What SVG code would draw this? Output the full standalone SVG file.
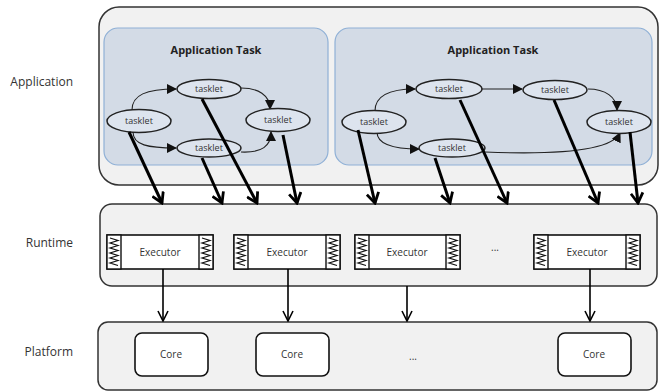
<svg xmlns="http://www.w3.org/2000/svg" width="661" height="392" viewBox="0 0 661 392">
  <defs>
    <style>
      .layer { fill: #f1f1f1; stroke: #333; stroke-width: 1.5; }
      .task { fill: #d3dbe6; stroke: #8fb0d6; stroke-width: 1.2; }
      .tasklet { fill: #dde4ee; stroke: #222; stroke-width: 1.5; }
      .box { fill: #fff; stroke: #111; stroke-width: 1.6; }
      .lbl { font-family: "Open Sans", "Liberation Sans", sans-serif; fill: #333; }
      .side { font-size: 12px; text-anchor: end; }
      .title { font-size: 11px; font-weight: bold; text-anchor: middle; fill: #222; }
      .tk { font-size: 9px; text-anchor: middle; }
      .mid { font-size: 10px; text-anchor: middle; }
      .flow { fill: none; stroke: #222; stroke-width: 1.1; marker-end: url(#tri); }
      .map { fill: none; stroke: #000; stroke-width: 3; marker-end: url(#vThick); }
      .down { fill: none; stroke: #000; stroke-width: 1.6; marker-end: url(#vThin); }
      .coil { fill: none; stroke: #111; stroke-width: 1.2; stroke-linejoin: miter; }
    </style>
    <marker id="tri" markerUnits="userSpaceOnUse" markerWidth="10" markerHeight="10" viewBox="0 0 10 10" refX="9" refY="5" orient="auto">
      <path d="M0,0 L10,5 L0,10 Z" fill="#111"/>
    </marker>
    <marker id="vThick" markerUnits="userSpaceOnUse" markerWidth="14" markerHeight="14" viewBox="0 0 14 14" refX="12" refY="7" orient="auto">
      <path d="M2,1 L12,7 L2,13" fill="none" stroke="#000" stroke-width="2.8"/>
    </marker>
    <marker id="vThin" markerUnits="userSpaceOnUse" markerWidth="12" markerHeight="12" viewBox="0 0 12 12" refX="11" refY="6" orient="auto">
      <path d="M1,1 L11,6 L1,11" fill="none" stroke="#000" stroke-width="1.6"/>
    </marker>
    <!-- spring cell used at both ends of an executor -->
    <g id="spring">
      <rect x="0" y="0" width="14" height="34" fill="#fff" stroke="#111" stroke-width="1.4"/>
      <path class="coil" d="M3,3 L11,5.5 L3,8 L11,10.5 L3,13 L11,15.5 L3,18 L11,20.5 L3,23 L11,25.5 L3,28 L11,30.5"/>
    </g>
  </defs>

  <!-- layer labels -->
  <text class="lbl side" x="73" y="86">Application</text>
  <text class="lbl side" x="73" y="247">Runtime</text>
  <text class="lbl side" x="73" y="356">Platform</text>

  <!-- application layer -->
  <g id="application">
    <rect class="layer" x="99" y="7" width="559" height="178" rx="20"/>
  </g>
  <g id="task-1">
    <rect class="task" x="104" y="28" width="224" height="137" rx="14"/>
    <text class="lbl title" x="216" y="54">Application Task</text>
  </g>
  <g id="task-2">
    <rect class="task" x="335" y="28" width="317" height="137" rx="14"/>
    <text class="lbl title" x="493" y="54">Application Task</text>
  </g>

  <!-- tasklet dependencies -->
  <g id="dependencies">
    <path class="flow" d="M132,110 C132,95 146,89 176,89"/>
    <path class="flow" d="M133,132 C133,145 148,148 176,148"/>
    <path class="flow" d="M241,88 C258,88 270,95 270,109"/>
    <path class="flow" d="M241,152 C262,153 271,146 271,132"/>
    <path class="flow" d="M375,111 C375,95 390,89 415,89"/>
    <path class="flow" d="M377,132 C377,145 395,149 419,149"/>
    <path class="flow" d="M482,89 L522,89"/>
    <path class="flow" d="M588,89 C605,89 617,97 617,110"/>
    <path class="flow" d="M485,152 C560,155 612,150 620,133"/>
  </g>

  <!-- tasklets -->
  <g id="t1-a"><ellipse class="tasklet" cx="139" cy="121" rx="32" ry="11.5"/><text class="lbl tk" x="139" y="124">tasklet</text></g>
  <g id="t1-b"><ellipse class="tasklet" cx="209" cy="89" rx="32" ry="9.5"/><text class="lbl tk" x="209" y="92">tasklet</text></g>
  <g id="t1-c"><ellipse class="tasklet" cx="209" cy="148" rx="32" ry="9"/><text class="lbl tk" x="209" y="151">tasklet</text></g>
  <g id="t1-d"><ellipse class="tasklet" cx="278" cy="120" rx="32" ry="11.5"/><text class="lbl tk" x="278" y="123">tasklet</text></g>
  <g id="t2-a"><ellipse class="tasklet" cx="374" cy="122" rx="32" ry="11.5"/><text class="lbl tk" x="374" y="125">tasklet</text></g>
  <g id="t2-b"><ellipse class="tasklet" cx="449" cy="89" rx="33" ry="9.5"/><text class="lbl tk" x="449" y="92">tasklet</text></g>
  <g id="t2-c"><ellipse class="tasklet" cx="452" cy="148" rx="33" ry="9"/><text class="lbl tk" x="452" y="151">tasklet</text></g>
  <g id="t2-d"><ellipse class="tasklet" cx="555" cy="90" rx="32" ry="9.5"/><text class="lbl tk" x="555" y="93">tasklet</text></g>
  <g id="t2-e"><ellipse class="tasklet" cx="619" cy="122" rx="32" ry="11.5"/><text class="lbl tk" x="619" y="125">tasklet</text></g>

  <!-- runtime layer -->
  <g id="runtime">
    <rect class="layer" x="100" y="204" width="557" height="82" rx="12"/>
    <text class="lbl mid" x="495" y="251">...</text>
  </g>
  <g id="executor-1">
    <rect class="box" x="107" y="235" width="106" height="34"/>
    <use href="#spring" x="107" y="235"/><use href="#spring" x="199" y="235"/>
    <text class="lbl mid" x="160" y="256">Executor</text>
  </g>
  <g id="executor-2">
    <rect class="box" x="234" y="235" width="106" height="34"/>
    <use href="#spring" x="234" y="235"/><use href="#spring" x="326" y="235"/>
    <text class="lbl mid" x="287" y="256">Executor</text>
  </g>
  <g id="executor-3">
    <rect class="box" x="355" y="235" width="105" height="34"/>
    <use href="#spring" x="355" y="235"/><use href="#spring" x="446" y="235"/>
    <text class="lbl mid" x="407" y="256">Executor</text>
  </g>
  <g id="executor-4">
    <rect class="box" x="534" y="235" width="106" height="34"/>
    <use href="#spring" x="534" y="235"/><use href="#spring" x="626" y="235"/>
    <text class="lbl mid" x="587" y="256">Executor</text>
  </g>

  <!-- platform layer -->
  <g id="platform">
    <rect class="layer" x="98" y="322" width="559" height="68" rx="10"/>
    <text class="lbl mid" x="413" y="360">...</text>
  </g>
  <g id="core-1"><rect class="box" x="135" y="333" width="73" height="43" rx="7"/><text class="lbl mid" x="171" y="358">Core</text></g>
  <g id="core-2"><rect class="box" x="256" y="333" width="73" height="43" rx="7"/><text class="lbl mid" x="292" y="358">Core</text></g>
  <g id="core-3"><rect class="box" x="558" y="333" width="73" height="43" rx="7"/><text class="lbl mid" x="594" y="358">Core</text></g>

  <!-- mappings between layers -->
  <g id="connectors">
    <path class="map" d="M129,132 L162,203"/>
    <path class="map" d="M202,158 L222,203"/>
    <path class="map" d="M202,99 L257,203"/>
    <path class="map" d="M283,135 L297,203"/>
    <path class="map" d="M358,130 L375,203"/>
    <path class="map" d="M435,158 L450,203"/>
    <path class="map" d="M460,100 L507,203"/>
    <path class="map" d="M554,100 L598,203"/>
    <path class="map" d="M630,132 L638,203"/>
    <path class="down" d="M163,269 L163,321"/>
    <path class="down" d="M288,269 L288,321"/>
    <path class="down" d="M407,286 L407,321"/>
    <path class="down" d="M590,269 L590,321"/>
  </g>
</svg>
